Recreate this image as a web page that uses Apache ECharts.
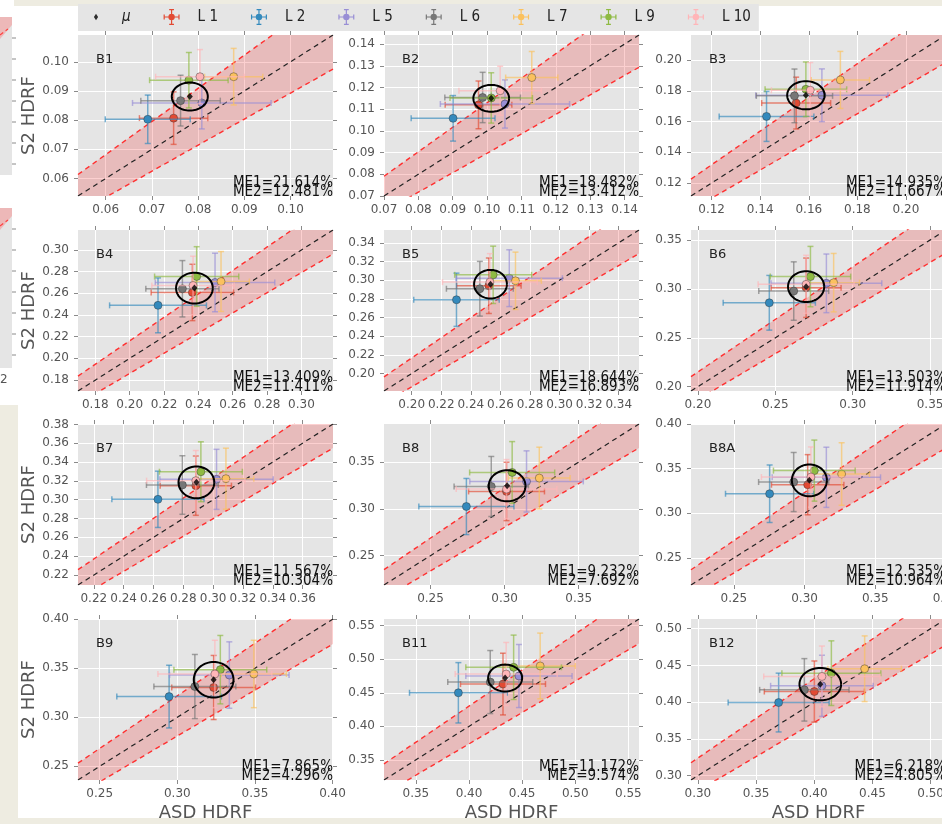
<!DOCTYPE html>
<html><head><meta charset="utf-8">
<script src="https://cdn.jsdelivr.net/npm/echarts@6/dist/echarts.min.js"></script>
<style>html,body{margin:0;padding:0;background:#fff}#c{width:942px;height:824px}</style>
</head><body><div id="c"></div><script>
// ---------------- DATA ----------------
const panelNames = ['B1','B2','B3','B4','B5','B6','B7','B8','B8A','B9','B11','B12'];
const axisMin = [0.0540,0.0700,0.1115,0.1699,0.1813,0.1955,0.2094,0.2186,0.2197,0.2360,0.3200,0.2941];
const axisMax = [0.1092,0.1442,0.2165,0.3184,0.3537,0.3603,0.3804,0.3907,0.4000,0.4003,0.5600,0.5132];
const xTicks = [
  [0.06,0.07,0.08,0.09,0.10],
  [0.07,0.08,0.09,0.10,0.11,0.12,0.13,0.14],
  [0.12,0.14,0.16,0.18,0.20],
  [0.18,0.20,0.22,0.24,0.26,0.28,0.30],
  [0.20,0.22,0.24,0.26,0.28,0.30,0.32,0.34],
  [0.20,0.25,0.30,0.35],
  [0.22,0.24,0.26,0.28,0.30,0.32,0.34,0.36],
  [0.25,0.30,0.35],
  [0.25,0.30,0.35,0.40],
  [0.25,0.30,0.35,0.40],
  [0.35,0.40,0.45,0.50,0.55],
  [0.30,0.35,0.40,0.45,0.50]
];
const yTicks = [
  [0.06,0.07,0.08,0.09,0.10],
  [0.07,0.08,0.09,0.10,0.11,0.12,0.13,0.14],
  [0.12,0.14,0.16,0.18,0.20],
  [0.18,0.20,0.22,0.24,0.26,0.28,0.30],
  [0.20,0.22,0.24,0.26,0.28,0.30,0.32,0.34],
  [0.20,0.25,0.30,0.35],
  [0.22,0.24,0.26,0.28,0.30,0.32,0.34,0.36,0.38],
  [0.25,0.30,0.35],
  [0.25,0.30,0.35,0.40],
  [0.25,0.30,0.35,0.40],
  [0.35,0.40,0.45,0.50,0.55],
  [0.30,0.35,0.40,0.45,0.50]
];
const me1 = ['21.614','18.482','14.935','13.409','18.644','13.503','11.567','9.232','12.535','7.865','11.172','6.218'];
const me2 = ['12.481','13.412','11.667','11.411','16.893','11.914','10.304','7.692','10.964','4.296','9.574','4.805'];
const bandPct = [0.12,0.115,0.09,0.075,0.077,0.07,0.072,0.07,0.072,0.068,0.07,0.074];

const labelNames = ['L 1','L 2','L 5','L 6','L 7','L 9','L 10'];
const labelColors = ['#E24A33','#348ABD','#988ED5','#777777','#FBC15E','#8EBA42','#FFB5B8'];
// per panel: [ASD x, S2 y, x error, y error]
const L1 = [[0.0747,0.0807,0.0074,0.0090],[0.0975,0.1120,0.0097,0.0110],[0.1548,0.1721,0.0142,0.0169],[0.2365,0.2608,0.0240,0.0260],[0.2522,0.2940,0.0218,0.0297],[0.2699,0.3012,0.0226,0.0304],[0.2884,0.3149,0.0239,0.0315],[0.3013,0.3186,0.0256,0.0312],[0.3022,0.3320,0.0256,0.0337],[0.3234,0.3304,0.0270,0.0327],[0.4320,0.4630,0.0400,0.0460],[0.4001,0.4145,0.0430,0.0416]];
const L2 = [[0.0691,0.0803,0.0092,0.0083],[0.0901,0.1058,0.0122,0.0105],[0.1426,0.1634,0.0195,0.0163],[0.2165,0.2489,0.0282,0.0253],[0.2303,0.2790,0.0289,0.0285],[0.2461,0.2858,0.0298,0.0280],[0.2630,0.3004,0.0309,0.0299],[0.2742,0.3025,0.0321,0.0300],[0.2753,0.3219,0.0312,0.0322],[0.2947,0.3211,0.0337,0.0320],[0.3900,0.4500,0.0460,0.0450],[0.3694,0.3995,0.0434,0.0400]];
const L5 = [[0.0808,0.0859,0.0150,0.0089],[0.1052,0.1124,0.0188,0.0111],[0.1654,0.1772,0.0272,0.0172],[0.2497,0.2700,0.0348,0.0270],[0.2660,0.3021,0.0359,0.0304],[0.2830,0.3057,0.0358,0.0300],[0.3023,0.3216,0.0380,0.0319],[0.3148,0.3293,0.0383,0.0327],[0.3154,0.3403,0.0383,0.0337],[0.3335,0.3431,0.0385,0.0339],[0.4470,0.4750,0.0500,0.0470],[0.4066,0.4223,0.0441,0.0416]];
const L6 = [[0.0762,0.0867,0.0086,0.0087],[0.0987,0.1154,0.0110,0.0116],[0.1541,0.1768,0.0157,0.0175],[0.2307,0.2642,0.0213,0.0260],[0.2461,0.2908,0.0226,0.0293],[0.2619,0.2978,0.0226,0.0299],[0.2794,0.3156,0.0241,0.0311],[0.2910,0.3239,0.0251,0.0321],[0.2923,0.3350,0.0248,0.0331],[0.3113,0.3314,0.0264,0.0327],[0.4200,0.4660,0.0400,0.0470],[0.3915,0.4168,0.0384,0.0425]];
const L7 = [[0.0877,0.0949,0.0063,0.0097],[0.1130,0.1246,0.0076,0.0120],[0.1730,0.1872,0.0120,0.0186],[0.2532,0.2709,0.0165,0.0276],[0.2702,0.2993,0.0175,0.0307],[0.2877,0.3064,0.0167,0.0299],[0.3086,0.3223,0.0187,0.0324],[0.3234,0.3329,0.0208,0.0330],[0.3262,0.3440,0.0197,0.0350],[0.3493,0.3442,0.0210,0.0344],[0.4670,0.4900,0.0330,0.0490],[0.4433,0.4455,0.0316,0.0447]];
const L9 = [[0.0780,0.0937,0.0085,0.0095],[0.1012,0.1152,0.0120,0.0116],[0.1588,0.1811,0.0168,0.0178],[0.2390,0.2755,0.0245,0.0275],[0.2551,0.3057,0.0260,0.0307],[0.2727,0.3126,0.0260,0.0309],[0.2918,0.3297,0.0278,0.0318],[0.3051,0.3389,0.0287,0.0330],[0.3069,0.3478,0.0289,0.0342],[0.3277,0.3486,0.0299,0.0349],[0.4420,0.4880,0.0450,0.0480],[0.4147,0.4395,0.0425,0.0440]];
const L10 = [[0.0804,0.0949,0.0096,0.0093],[0.1038,0.1185,0.0120,0.0113],[0.1606,0.1805,0.0160,0.0180],[0.2369,0.2672,0.0240,0.0270],[0.2529,0.2979,0.0320,0.0305],[0.2699,0.3047,0.0310,0.0297],[0.2884,0.3202,0.0330,0.0320],[0.3013,0.3211,0.0340,0.0316],[0.3045,0.3406,0.0350,0.0337],[0.3242,0.3442,0.0367,0.0344],[0.4350,0.4780,0.0480,0.0470],[0.4066,0.4350,0.0500,0.0414]];
// mean: [x, y, ellipse half-width (x units), ellipse half-height (y units)]
const MU = [[0.0782,0.0881,0.0039,0.0048],[0.1012,0.1150,0.0052,0.0062],[0.1588,0.1772,0.0077,0.0092],[0.2377,0.2648,0.0107,0.0142],[0.2533,0.2957,0.0111,0.0153],[0.2699,0.3023,0.0117,0.0158],[0.2888,0.3184,0.0120,0.0168],[0.3017,0.3246,0.0124,0.0166],[0.3034,0.3369,0.0124,0.0178],[0.3234,0.3383,0.0128,0.0181],[0.4340,0.4720,0.0160,0.0200],[0.4052,0.4245,0.0179,0.0220]];
const labelData = [L1,L2,L5,L6,L7,L9,L10];

// ---------------- LAYOUT / STYLE ----------------
const COL_LEFT=[78,384,691], ROW_TOP=[35,230,424,619], PW=255, PH=161;
const TICK_FONT='DejaVu Sans';
const COND_FONT='"DejaVu Sans Condensed","Liberation Sans Narrow","DejaVu Sans"';
function rgba(hex,a){const n=parseInt(hex.slice(1),16);return 'rgba('+((n>>16)&255)+','+((n>>8)&255)+','+(n&255)+','+a+')';}

function renderErr(params, api){
  const x=api.value(0), y=api.value(1), xe=api.value(2), ye=api.value(3);
  const c=api.coord([x,y]), l=api.coord([x-xe,y]), r=api.coord([x+xe,y]);
  const t=api.coord([x,y+ye]), b=api.coord([x,y-ye]);
  const col=api.visual('color');
  const ls={stroke:rgba(col,0.65),lineWidth:1.5};
  const cap=3;
  const cs=params.coordSys;
  return {type:'group', clipPath:{type:'rect',shape:{x:cs.x,y:cs.y,width:cs.width,height:cs.height}}, children:[
    {type:'line',shape:{x1:l[0],y1:c[1],x2:r[0],y2:c[1]},style:ls},
    {type:'line',shape:{x1:c[0],y1:t[1],x2:c[0],y2:b[1]},style:ls},
    {type:'line',shape:{x1:l[0],y1:c[1]-cap,x2:l[0],y2:c[1]+cap},style:ls},
    {type:'line',shape:{x1:r[0],y1:c[1]-cap,x2:r[0],y2:c[1]+cap},style:ls},
    {type:'line',shape:{x1:c[0]-cap,y1:t[1],x2:c[0]+cap,y2:t[1]},style:ls},
    {type:'line',shape:{x1:c[0]-cap,y1:b[1],x2:c[0]+cap,y2:b[1]},style:ls},
    {type:'circle',shape:{cx:c[0],cy:c[1],r:4},style:{fill:col,stroke:'rgba(50,50,50,0.55)',lineWidth:0.8}}
  ]};
}
function renderBand(params, api){
  const a=api.value(0), b=api.value(1), p=api.value(2);
  const pts=[[a,a/(1+p)],[b,b/(1+p)],[b,b/(1-p)],[a,a/(1-p)]].map(q=>api.coord(q));
  const cs=params.coordSys;
  return {type:'polygon',shape:{points:pts},style:{fill:'rgba(240,40,40,0.22)'},
    clipPath:{type:'rect',shape:{x:cs.x,y:cs.y,width:cs.width,height:cs.height}}};
}
function renderEllipse(params, api){
  const mx=api.value(0), my=api.value(1), rx=api.value(2), ry=api.value(3);
  const pts=[];
  for(let k=0;k<=72;k++){const t=k/72*Math.PI*2;pts.push(api.coord([mx+rx*Math.cos(t),my+ry*Math.sin(t)]));}
  return {type:'polyline',shape:{points:pts},style:{stroke:'#000',lineWidth:2,fill:null}};
}

const grids=[], xAxes=[], yAxes=[], series=[], graphics=[];
const xTop=[], yRight=[];
panelNames.forEach((name,i)=>{
  const r=Math.floor(i/3), c=i%3;
  const left=COL_LEFT[c], top=ROW_TOP[r];
  grids.push({left:left, top:top, width:PW, height:PH, show:true, backgroundColor:'#E5E5E5', borderWidth:0,
    containLabel:false, outerBoundsMode:'none'});
  const base={type:'value', gridIndex:i, min:axisMin[i], max:axisMax[i], axisLine:{show:false}};
  const tick=(vals)=>({show:true, length:4, lineStyle:{color:'#8a8a8a', width:1}, customValues:vals});
  xAxes.push(Object.assign({}, base, {position:'bottom',
    axisTick:tick(xTicks[i]),
    axisLabel:{customValues:xTicks[i], formatter:v=>v.toFixed(2), color:'#555', fontSize:12, margin:8, fontFamily:TICK_FONT},
    splitLine:{show:true, lineStyle:{color:'#ffffff', width:1}},
    name: r===3?'ASD HDRF':'', nameLocation:'middle', nameGap:24,
    nameTextStyle:{fontSize:18, color:'#555', fontFamily:TICK_FONT}}));
  yAxes.push(Object.assign({}, base, {position:'left',
    axisTick:tick(yTicks[i]),
    axisLabel:{customValues:yTicks[i], formatter:v=>v.toFixed(2), color:'#555', fontSize:12, margin:9, fontFamily:TICK_FONT},
    splitLine:{show:true, lineStyle:{color:'#ffffff', width:1}},
    name: c===0?'S2 HDRF':'', nameLocation:'middle', nameGap:40,
    nameTextStyle:{fontSize:18, color:'#555', fontFamily:TICK_FONT}}));
  xTop.push(Object.assign({}, base, {position:'top', axisTick:tick(xTicks[i]), axisLabel:{show:false, customValues:xTicks[i]}, splitLine:{show:false}}));
  yRight.push(Object.assign({}, base, {position:'right', axisTick:tick(yTicks[i]), axisLabel:{show:false, customValues:yTicks[i]}, splitLine:{show:false}}));

  const a=axisMin[i], b=axisMax[i], p=bandPct[i];
  series.push({type:'custom', xAxisIndex:i, yAxisIndex:i, silent:true, z:1, data:[[a,b,p]], renderItem:renderBand});
  const lineBase={type:'line', xAxisIndex:i, yAxisIndex:i, silent:true, symbol:'none', clip:true, animation:false};
  series.push(Object.assign({}, lineBase, {z:2, data:[[a,a/(1-p)],[b,b/(1-p)]], lineStyle:{color:'#ff3030', width:1.4, type:[5,4]}}));
  series.push(Object.assign({}, lineBase, {z:2, data:[[a,a/(1+p)],[b,b/(1+p)]], lineStyle:{color:'#ff3030', width:1.4, type:[5,4]}}));
  series.push(Object.assign({}, lineBase, {z:2, data:[[a,a],[b,b]], lineStyle:{color:'#222', width:1.2, type:[5,4]}}));
  labelData.forEach((arr,k)=>{
    series.push({type:'custom', name:labelNames[k], xAxisIndex:i, yAxisIndex:i, z:3, silent:true,
      itemStyle:{color:labelColors[k]}, data:[arr[i]], renderItem:renderErr});
  });
  series.push({type:'scatter', name:'μ', xAxisIndex:i, yAxisIndex:i, z:4, silent:true, symbol:'diamond', symbolSize:[6,7],
    itemStyle:{color:'#000'}, data:[[MU[i][0],MU[i][1]]]});
  series.push({type:'custom', xAxisIndex:i, yAxisIndex:i, z:5, silent:true, data:[MU[i]], renderItem:renderEllipse});

  graphics.push({type:'text', z:100, x:left+18, y:top+25, style:{text:name, fill:'#222', font:'13px "DejaVu Sans"', textVerticalAlign:'middle', verticalAlign:'middle'}});
  graphics.push({type:'text', z:100, x:left+PW, y:top+PH-13, style:{text:'ME1='+me1[i]+'%', fill:'#111', font:'15px '+COND_FONT, textAlign:'right', align:'right', textVerticalAlign:'middle', verticalAlign:'middle'}});
  graphics.push({type:'text', z:101, x:left+PW, y:top+PH-3.5, style:{text:'ME2='+me2[i]+'%', fill:'#111', font:'15px '+COND_FONT, textAlign:'right', align:'right', textVerticalAlign:'middle', verticalAlign:'middle'}});
});

// page decoration (edges of neighbouring figure / page)
const beige='#EEECE1';
graphics.push({type:'rect', z:0, shape:{x:14,y:0,width:928,height:6}, style:{fill:beige}});
graphics.push({type:'rect', z:0, shape:{x:0,y:405,width:18,height:419}, style:{fill:beige}});
graphics.push({type:'rect', z:0, shape:{x:0,y:818,width:942,height:6}, style:{fill:beige}});
[[17,158],[208,160]].forEach(([y0,h])=>{
  graphics.push({type:'rect', z:0, shape:{x:0,y:y0,width:12,height:h}, style:{fill:'#E5E5E5'}});
  graphics.push({type:'polygon', z:0, shape:{points:[[0,y0],[12,y0],[12,y0+8],[0,y0+22]]}, style:{fill:'#EDB8B8'}});
  graphics.push({type:'line', z:0, shape:{x1:0,y1:y0+18,x2:8,y2:y0+12}, style:{stroke:'#ff4040', lineWidth:1.2, lineDash:[4,3]}});
  for(let k=0;k<7;k++){const yy=y0+21+k*21;graphics.push({type:'line', z:0, shape:{x1:12,y1:yy,x2:16,y2:yy}, style:{stroke:'#8a8a8a', lineWidth:1}});}
});
graphics.push({type:'text', z:0, x:0, y:380, style:{text:'2', fill:'#555', font:'12px "DejaVu Sans"', textVerticalAlign:'middle', verticalAlign:'middle'}});

const errIcon='path://M0 9.25H20V10.75H0Z M9.25 0H10.75V20H9.25Z M0 7H1.5V13H0Z M18.5 7H20V13H18.5Z M7 0H13V1.5H7Z M7 18.5H13V20H7Z M14 10A4 4 0 1 1 6 10A4 4 0 1 1 14 10Z';
const muIcon='path://M0 0L0.01 0L0 0.01Z M20 20L19.99 20L20 19.99Z M10 6L12.6 10L10 14L7.4 10Z';

const option={
  animation:false,
  backgroundColor:'#ffffff',
  legend:{left:78, top:4, orient:'horizontal', backgroundColor:'#E5E5E5', padding:[5,8,6,10], itemGap:33,
    itemWidth:16, itemHeight:16, selectedMode:false,
    textStyle:{fontFamily:COND_FONT, fontSize:15, color:'#222', padding:[0,0,0,13]},
    data:[{name:'μ', icon:muIcon, itemStyle:{color:'#000'}, textStyle:{fontStyle:'italic'}}]
      .concat(labelNames.map((n,k)=>({name:n, icon:errIcon, itemStyle:{color:labelColors[k]}})))},
  grid:grids,
  xAxis:xAxes.concat(xTop),
  yAxis:yAxes.concat(yRight),
  series:series,
  graphic:{elements:graphics}
};
const chart=echarts.init(document.getElementById('c'),null,{renderer:'canvas'});
chart.setOption(option);
</script></body></html>
